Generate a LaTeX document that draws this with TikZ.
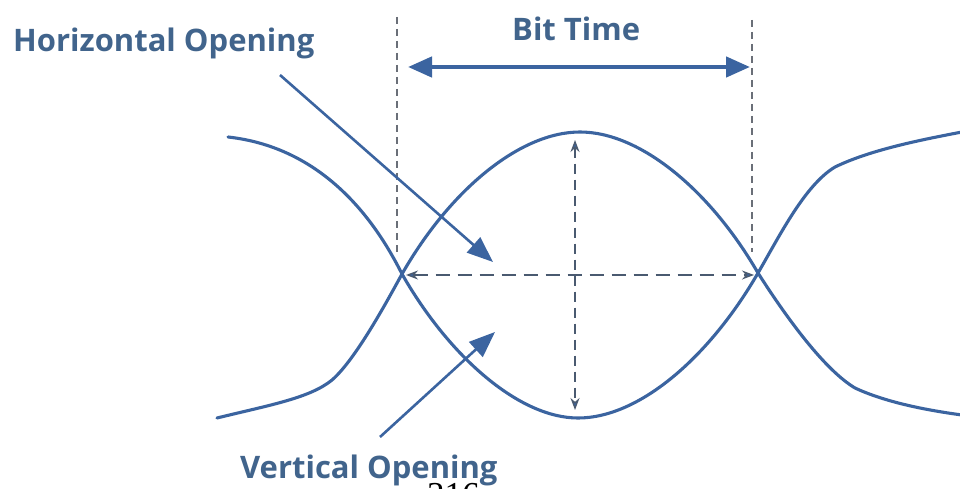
\documentclass[tikz,border=0pt]{standalone}
\usepackage{fontspec}
\setmainfont{Open Sans}
\newfontfamily\pgfont{Liberation Serif}
\usetikzlibrary{arrows.meta}
\definecolor{wavec}{HTML}{3B64A0}
\definecolor{lblc}{HTML}{41648C}
\definecolor{guidec}{HTML}{6A6F78}
\definecolor{measc}{HTML}{4A5A70}
\tikzset{
  wave/.style={draw=wavec, line width=3.1pt, line cap=round},
  lbltext/.style={text=lblc, font=\fontsize{31}{31}\selectfont\bfseries, inner sep=0pt, anchor=base west},
  guide/.style={draw=guidec, line width=1.3pt, dash pattern=on 7pt off 5pt},
  bitarrow/.style={draw=wavec, line width=4.5pt, {Triangle[length=24pt,width=20pt]}-{Triangle[length=24pt,width=20pt]}},
  measure/.style={draw=measc, line width=1.3pt, {Stealth[length=12pt,width=9pt,fill=wavec]}-{Stealth[length=12pt,width=9pt,fill=wavec]}},
  pointer/.style={draw=wavec, line width=2.6pt, -{Triangle[length=26pt,width=20pt]}}
}
\begin{document}
\begin{tikzpicture}[x=1pt,y=-1pt]
\useasboundingbox (0,0) rectangle (960,489);
\fill[white] (0,0) rectangle (960,489);
\begin{scope}
\clip (0,0) rectangle (960,489);
% key points
\coordinate (xl) at (402,274);
\coordinate (xr) at (758,273);
\coordinate (pk) at (580,132);
\coordinate (tr) at (578,418);
% guide lines
\coordinate (gl1) at (397,17);
\coordinate (gl2) at (397,252);
\coordinate (gr1) at (752,20);
\coordinate (gr2) at (752,252);
\draw[guide] (gl1) -- (gl2);
\draw[guide] (gr1) -- (gr2);
% bit time arrow
\coordinate (bt1) at (408,67);
\coordinate (bt2) at (750,67);
\draw[bitarrow] (bt1) -- (bt2);
% waveforms
\draw[wave] (228,137) .. controls (300,145) and (360,190) .. (xl)
  .. controls (450,358) and (520,418) .. (tr)
  .. controls (640,418) and (710,356) .. (xr)
  .. controls (780,235) and (805,185) .. (835,167)
  .. controls (870,150) and (920,140) .. (962,132);
\draw[wave] (217,418) .. controls (270,405) and (310,398) .. (332,380)
  .. controls (355,360) and (385,305) .. (xl)
  .. controls (450,190) and (520,132) .. (pk)
  .. controls (640,132) and (710,190) .. (xr)
  .. controls (788,320) and (825,370) .. (855,388)
  .. controls (885,402) and (925,410) .. (962,415);
% measurement arrows
\coordinate (hl) at (406,275);
\coordinate (hr) at (754,275);
\draw[measure, dash pattern=on 14pt off 8pt] (hl) -- (hr);
\coordinate (vt) at (575,140);
\coordinate (vb) at (575,410);
\draw[measure, dash pattern=on 10pt off 6pt] (vt) -- (vb);
% pointers
\coordinate (hp1) at (280,75);
\coordinate (hp2) at (493,262);
\draw[pointer] (hp1) -- (hp2);
\coordinate (vp1) at (380,437);
\coordinate (vp2) at (495,332);
\draw[pointer] (vp1) -- (vp2);
% labels
\node[lbltext] (ho) at (13,52) {Horizontal Opening};
\node[lbltext] (bt) at (512,41) {Bit Time};
\node[lbltext] (vo) at (240,478) {Vertical Opening};
\node[anchor=base west, inner sep=0pt, font=\fontsize{35}{35}\selectfont\pgfont] (pg) at (427,506) {316};
\end{scope}
\end{tikzpicture}
\end{document}
